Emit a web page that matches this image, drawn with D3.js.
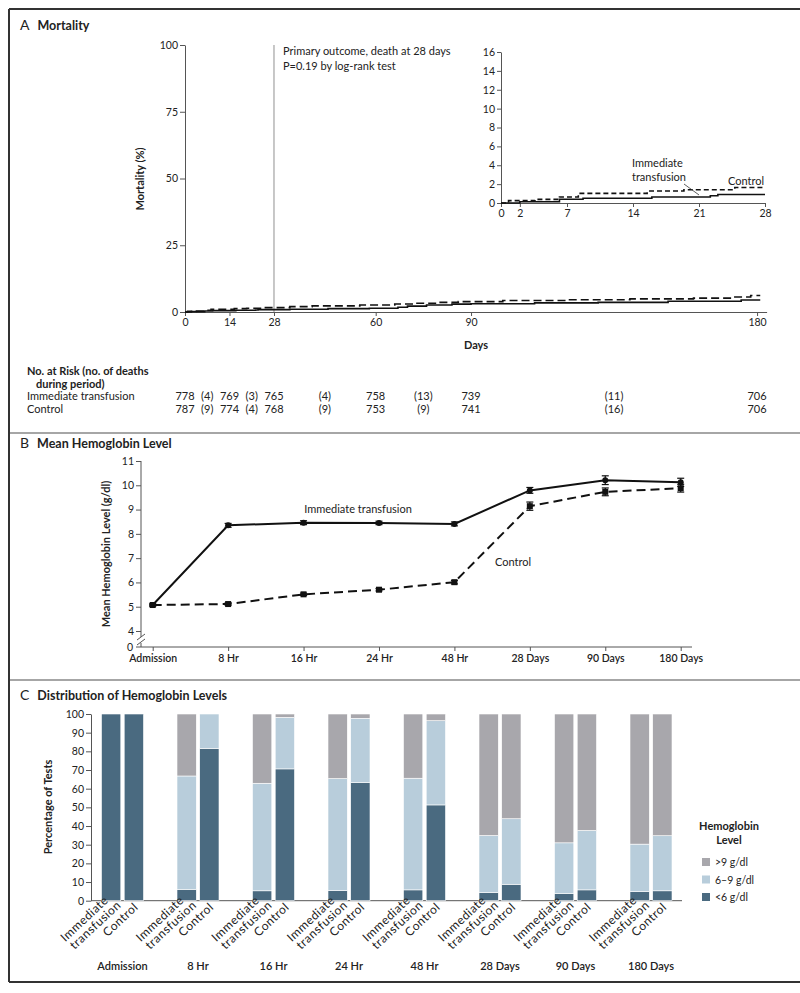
<!DOCTYPE html>
<html>
<head>
<meta charset="utf-8">
<script src="https://cdn.jsdelivr.net/npm/d3@7"></script>
<style>
body{margin:0;background:#fff}
svg{display:block;font-family:Lato,"Open Sans",sans-serif;fill:#222}
.axis path,.axis line{stroke:#555;stroke-width:1}
.axis text{font-size:10.5px;fill:#222;font-family:Lato,"Open Sans",sans-serif}
</style>
</head>
<body>
<svg id="chart" width="800" height="993"></svg>
<script>
// ---- Panel A: Kaplan-Meier mortality (day, cumulative %)
const immKM = [[0,0],[2,0.13],[6.2,0.39],[8.7,0.51],[16,0.64],[22.2,0.77],[23,0.9],[33,1.03],[45,1.28],[58,1.41],[67,1.8],[70,2.2],[76,2.6],[84,2.95],[90,3.1],[110,3.4],[130,3.6],[152,4.0],[175,4.5],[181,4.5]];
const ctrlKM = [[0,0],[0.8,0.25],[3.6,0.38],[6.2,0.64],[8.2,1.02],[15.5,1.27],[19.4,1.4],[24.8,1.65],[33,2.0],[40,2.3],[55,2.6],[66,3.0],[72,3.3],[80,3.6],[86,3.9],[100,4.3],[120,4.6],[140,4.9],[160,5.2],[172,5.6],[178,6.2],[181,6.2]];
const mortTicks = [0,25,50,75,100];
const dayTicks = [0,14,28,60,90,180];
const insetTicks = [0,2,4,6,8,10,12,14,16];
const insetDayTicks = [0,2,7,14,21,28];

// number at risk table
const riskDays = [0,14,28,60,90,180];
const immRisk = [778,769,765,758,739,706];
const ctrlRisk = [787,774,768,753,741,706];
const deathDays = [7,21,44,75,135];
const immDeaths = [4,3,4,13,11];
const ctrlDeaths = [9,4,9,9,16];

// ---- Panel B: mean hemoglobin (g/dl)
const timepoints = ["Admission","8 Hr","16 Hr","24 Hr","48 Hr","28 Days","90 Days","180 Days"];
const hbImm = [5.07,8.35,8.46,8.45,8.41,9.79,10.21,10.12];
const hbImmErr = [0.04,0.08,0.08,0.07,0.08,0.12,0.18,0.17];
const hbCtrl = [5.07,5.11,5.51,5.70,6.01,9.14,9.73,9.88];
const hbCtrlErr = [0.04,0.05,0.05,0.05,0.07,0.17,0.16,0.16];
const hbTicks = [4,5,6,7,8,9,10,11];

// ---- Panel C: distribution of hemoglobin levels (% of tests)
const levels = [">9 g/dl","6\u20139 g/dl","<6 g/dl"];
const levelColors = ["#a8a7ac","#b8cddb","#4a6a80"];
const immLow = [100,6.1,5.3,5.4,5.8,4.4,3.9,4.9];
const immMid = [0,60.7,57.6,60.0,59.8,30.5,27.1,25.4];
const ctrlLow = [100,81.6,70.6,63.3,51.3,8.8,5.8,5.3];
const ctrlMid = [0,18.4,27.6,34.4,45.1,35.1,31.8,29.5];
const pctTicks = [0,10,20,30,40,50,60,70,80,90,100];

const svg = d3.select("#chart");

// frame and separators
svg.append("rect").attr("width",800).attr("height",993).attr("fill","#fff");
const frame = svg.append("g").attr("stroke","#333").attr("stroke-width",2);
frame.append("line").attr("x1",9).attr("x2",800).attr("y1",9).attr("y2",9);
frame.append("line").attr("x1",9).attr("x2",9).attr("y1",9).attr("y2",982);
frame.append("line").attr("x1",9).attr("x2",800).attr("y1",982).attr("y2",982);
[433,680].forEach(y => {
  svg.append("line").attr("x1",10).attr("x2",800).attr("y1",y).attr("y2",y)
    .attr("stroke","#888").attr("stroke-width",1.5);
});

function header(y, letter, title){
  const t = svg.append("text").attr("x",20).attr("y",y).attr("font-size",12.5);
  t.append("tspan").attr("font-size",14).text(letter);
  t.append("tspan").attr("dx",8).attr("font-weight",700).text(title);
}
header(30,"A","Mortality");
header(448,"B","Mean Hemoglobin Level");
header(700,"C","Distribution of Hemoglobin Levels");

function styleAxis(g){
  g.attr("class","axis");
  g.select(".domain").attr("stroke","#555");
}

// ===== Panel A main
const xA = d3.scaleLinear().domain([0,183]).range([185,766.6]);
const yA = d3.scaleLinear().domain([0,100]).range([312,45]);

svg.append("line").attr("x1",xA(28)).attr("x2",xA(28)).attr("y1",yA(100)).attr("y2",yA(0))
  .attr("stroke","#aaa").attr("stroke-width",1.3);

svg.append("g").attr("transform","translate(185,0)")
  .call(d3.axisLeft(yA).tickValues(mortTicks).tickSize(5).tickSizeOuter(0).tickPadding(2))
  .call(styleAxis);
svg.append("g").attr("transform","translate(0,312)")
  .call(d3.axisBottom(xA).tickValues(dayTicks).tickSize(4).tickSizeOuter(0).tickPadding(3))
  .call(styleAxis);

const lineA = d3.line().x(d => xA(d[0])).y(d => yA(d[1])).curve(d3.curveStepAfter);
svg.append("path").datum(immKM).attr("d",lineA).attr("fill","none").attr("stroke","#111").attr("stroke-width",1.6);
svg.append("path").datum(ctrlKM).attr("d",lineA).attr("fill","none").attr("stroke","#111").attr("stroke-width",1.6).attr("stroke-dasharray","8,4");

svg.append("text").attr("transform","translate(144,179) rotate(-90)").attr("text-anchor","middle")
  .attr("font-size",11).attr("font-weight",700).text("Mortality (%)");
svg.append("text").attr("x",476).attr("y",349).attr("text-anchor","middle")
  .attr("font-size",11).attr("font-weight",700).text("Days");
svg.append("text").attr("x",283).attr("y",55).attr("font-size",11).text("Primary outcome, death at 28 days");
svg.append("text").attr("x",283).attr("y",70).attr("font-size",11).text("P=0.19 by log-rank test");

// ===== Panel A inset
const xI = d3.scaleLinear().domain([0,28]).range([501,765]);
const yI = d3.scaleLinear().domain([0,16]).range([203,52]);
svg.append("g").attr("transform","translate(501,0)")
  .call(d3.axisLeft(yI).tickValues(insetTicks).tickSize(4).tickSizeOuter(0).tickPadding(2))
  .call(styleAxis);
svg.append("g").attr("transform","translate(0,203)")
  .call(d3.axisBottom(xI).tickValues(insetDayTicks).tickSize(4).tickSizeOuter(0).tickPadding(3))
  .call(styleAxis);
const lineI = d3.line().x(d => xI(d[0])).y(d => yI(d[1])).curve(d3.curveStepAfter);
const upTo28 = s => s.filter(d => d[0] <= 28).concat([[28, s.filter(d => d[0] <= 28).slice(-1)[0][1]]]);
svg.append("path").datum(upTo28(immKM)).attr("d",lineI).attr("fill","none").attr("stroke","#111").attr("stroke-width",1.6);
svg.append("path").datum(upTo28(ctrlKM)).attr("d",lineI).attr("fill","none").attr("stroke","#111").attr("stroke-width",1.6).attr("stroke-dasharray","5,3");
svg.append("text").attr("x",632).attr("y",167).attr("font-size",11).text("Immediate");
svg.append("text").attr("x",632).attr("y",181).attr("font-size",11).text("transfusion");
svg.append("line").attr("x1",684).attr("y1",184).attr("x2",699).attr("y2",yI(0.85))
  .attr("stroke","#333").attr("stroke-width",0.8);
svg.append("text").attr("x",728).attr("y",185).attr("font-size",11).text("Control");

// ===== number at risk
svg.append("text").attr("x",27).attr("y",375).attr("font-size",11).attr("font-weight",700).text("No. at Risk (no. of deaths");
svg.append("text").attr("x",36).attr("y",388).attr("font-size",11).attr("font-weight",700).text("during period)");
const rows = [{label:"Immediate transfusion", risk:immRisk, deaths:immDeaths, y:400},
              {label:"Control", risk:ctrlRisk, deaths:ctrlDeaths, y:413}];
rows.forEach(r => {
  svg.append("text").attr("x",27).attr("y",r.y).attr("font-size",11).text(r.label);
  svg.selectAll(null).data(r.risk).join("text")
    .attr("x",(d,i) => xA(riskDays[i])).attr("y",r.y).attr("text-anchor","middle")
    .attr("font-size",11).text(d => d);
  svg.selectAll(null).data(r.deaths).join("text")
    .attr("x",(d,i) => xA(deathDays[i])).attr("y",r.y).attr("text-anchor","middle")
    .attr("font-size",11).text(d => `(${d})`);
});

// ===== Panel B
const xB = d3.scalePoint().domain(timepoints).range([152.7,680.7]);
const yB = d3.scaleLinear().domain([4,11]).range([631,461]);
const yB0 = 647;

const yAxB = svg.append("g").attr("transform","translate(141,0)")
  .call(d3.axisLeft(yB).tickValues(hbTicks).tickFormat(d3.format("d")).tickSize(5).tickSizeOuter(0).tickPadding(2))
  .call(styleAxis);
yAxB.select(".domain").remove();
const axB = svg.append("g").attr("stroke","#555").attr("stroke-width",1);
axB.append("line").attr("x1",141).attr("x2",141).attr("y1",yB(11)).attr("y2",637);
axB.append("line").attr("x1",141).attr("x2",141).attr("y1",643).attr("y2",yB0);
axB.append("line").attr("x1",137).attr("x2",145).attr("y1",640).attr("y2",634);
axB.append("line").attr("x1",137).attr("x2",145).attr("y1",645).attr("y2",639);
axB.append("line").attr("x1",136).attr("x2",141).attr("y1",yB0).attr("y2",yB0);
svg.append("text").attr("x",133).attr("y",yB0+3.5).attr("text-anchor","end").attr("font-size",10.5).text("0");

svg.append("g").attr("transform",`translate(0,${yB0})`)
  .call(d3.axisBottom(xB).tickSize(4).tickSizeOuter(0).tickPadding(4))
  .call(styleAxis)
  .call(g => g.select(".domain").attr("d","M141,0H692"))
  .call(g => g.selectAll("text").attr("font-size",11).attr("font-weight",600));

svg.append("text").attr("transform","translate(110,554) rotate(-90)").attr("text-anchor","middle")
  .attr("font-size",11).attr("font-weight",700).text("Mean Hemoglobin Level (g/dl)");

const lineB = d3.line().x((d,i) => xB(timepoints[i])).y(d => yB(d));
svg.append("path").datum(hbImm).attr("d",lineB).attr("fill","none").attr("stroke","#111").attr("stroke-width",2);
svg.append("path").datum(hbCtrl).attr("d",lineB).attr("fill","none").attr("stroke","#111").attr("stroke-width",2).attr("stroke-dasharray","9,5");

function errBars(vals, errs){
  const g = svg.append("g").attr("stroke","#111").attr("stroke-width",1.2);
  vals.forEach((v,i) => {
    const x = xB(timepoints[i]);
    const e = errs[i];
    g.append("line").attr("x1",x).attr("x2",x).attr("y1",yB(v-e)).attr("y2",yB(v+e));
    g.append("line").attr("x1",x-3.5).attr("x2",x+3.5).attr("y1",yB(v-e)).attr("y2",yB(v-e));
    g.append("line").attr("x1",x-3.5).attr("x2",x+3.5).attr("y1",yB(v+e)).attr("y2",yB(v+e));
  });
}
errBars(hbCtrl,hbCtrlErr);
errBars(hbImm,hbImmErr);
svg.selectAll(null).data(hbCtrl).join("rect")
  .attr("x",(d,i) => xB(timepoints[i])-3).attr("y",d => yB(d)-3)
  .attr("width",6).attr("height",6).attr("fill","#111");
svg.selectAll(null).data(hbImm).join("circle")
  .attr("cx",(d,i) => xB(timepoints[i])).attr("cy",d => yB(d)).attr("r",3).attr("fill","#111");

svg.append("text").attr("x",358).attr("y",513).attr("text-anchor","middle").attr("font-size",11).text("Immediate transfusion");
svg.append("text").attr("x",513).attr("y",566).attr("text-anchor","middle").attr("font-size",11).text("Control");

// ===== Panel C
const xC = d3.scalePoint().domain(timepoints).range([122.5,651]);
const armKeys = ["imm","ctrl"];
const xArm = d3.scaleBand().domain(armKeys).range([-21,21]).paddingInner(0.15);
const yC = d3.scaleLinear().domain([0,100]).range([900.7,714]);

svg.append("g").attr("transform","translate(91,0)")
  .call(d3.axisLeft(yC).tickValues(pctTicks).tickSize(5).tickSizeOuter(0).tickPadding(2))
  .call(styleAxis);
svg.append("line").attr("x1",91).attr("x2",682).attr("y1",yC(0)).attr("y2",yC(0)).attr("stroke","#555");

svg.append("text").attr("transform","translate(52,807) rotate(-90)").attr("text-anchor","middle")
  .attr("font-size",11).attr("font-weight",700).text("Percentage of Tests");

const barRows = [];
timepoints.forEach((t,i) => {
  barRows.push({t, arm:"imm", low:immLow[i], mid:immMid[i], high:100-immLow[i]-immMid[i]});
  barRows.push({t, arm:"ctrl", low:ctrlLow[i], mid:ctrlMid[i], high:100-ctrlLow[i]-ctrlMid[i]});
});
const stack = d3.stack().keys(["low","mid","high"]);
const series = stack(barRows);
const segColor = {low:levelColors[2], mid:levelColors[1], high:levelColors[0]};
svg.append("g").selectAll("g").data(series).join("g")
  .attr("fill",s => segColor[s.key])
  .selectAll("rect").data(s => s.filter(d => d[1]-d[0] > 0)).join("rect")
  .attr("x",d => xC(d.data.t) + xArm(d.data.arm))
  .attr("width",xArm.bandwidth())
  .attr("y",d => yC(d[1]))
  .attr("height",d => yC(d[0]) - yC(d[1]))
  .attr("stroke","#fff").attr("stroke-width",0.6);

// rotated arm labels
timepoints.forEach(t => {
  const cImm = xC(t) + xArm("imm") + xArm.bandwidth()/2;
  const cCtrl = xC(t) + xArm("ctrl") + xArm.bandwidth()/2;
  const g1 = svg.append("text").attr("transform",`translate(${cImm+10.5},906) rotate(-43)`)
    .attr("text-anchor","end").attr("font-size",12).attr("letter-spacing",0.5);
  g1.append("tspan").attr("x",-6).attr("y",-12).text("Immediate");
  g1.append("tspan").attr("x",0).attr("y",0).text("transfusion");
  svg.append("text").attr("transform",`translate(${cCtrl+5},908) rotate(-43)`)
    .attr("text-anchor","end").attr("font-size",12).attr("letter-spacing",0.5).text("Control");
});
svg.selectAll(null).data(timepoints).join("text")
  .attr("x",d => xC(d)).attr("y",970).attr("text-anchor","middle")
  .attr("font-size",11).attr("font-weight",600).text(d => d);

// legend
svg.append("text").attr("x",729).attr("y",830).attr("text-anchor","middle").attr("font-size",11).attr("font-weight",700).text("Hemoglobin");
svg.append("text").attr("x",729).attr("y",844).attr("text-anchor","middle").attr("font-size",11).attr("font-weight",700).text("Level");
const lg = svg.selectAll(".lg").data(levels).join("g").attr("class","lg")
  .attr("transform",(d,i) => `translate(702,${862 + i*17.5})`);
lg.append("rect").attr("x",0).attr("y",-4).attr("width",8).attr("height",8).attr("fill",(d,i) => levelColors[i]);
lg.append("text").attr("x",13).attr("y",4).attr("font-size",10.5).text(d => d);
</script>
</body>
</html>
